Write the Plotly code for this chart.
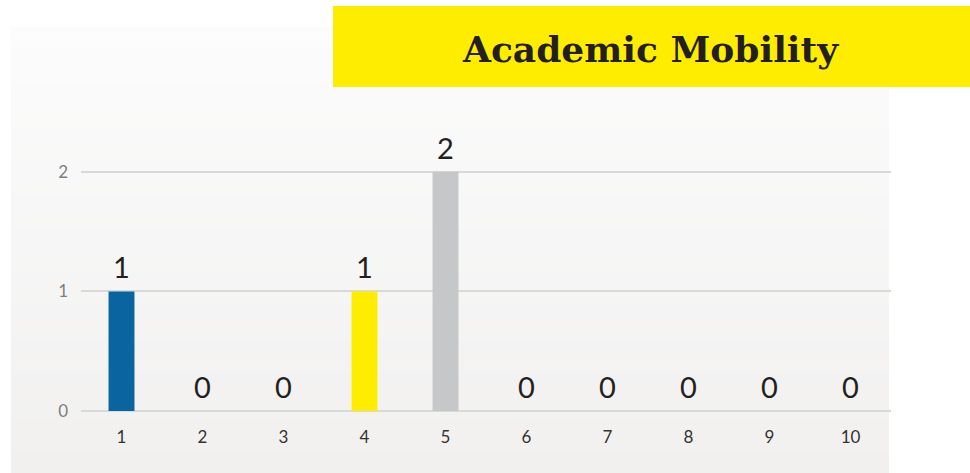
import plotly.graph_objects as go

categories = ["1", "2", "3", "4", "5", "6", "7", "8", "9", "10"]
values = [1, 0, 0, 1, 2, 0, 0, 0, 0, 0]
bar_colors = ["#0a64a0", "#c8c8c8", "#c8c8c8", "#ffed00", "#c6c7c9",
              "#c8c8c8", "#c8c8c8", "#c8c8c8", "#c8c8c8", "#c8c8c8"]
y_ticks = [0, 1, 2]
title_text = "Academic Mobility"

W, H = 970, 473
plot_l, plot_r = 81, 891
plot_top, plot_bot = 112, 411

def px_x(p):
    return (p - plot_l) / (plot_r - plot_l)

def px_y(p):
    return (plot_bot - p) / (plot_bot - plot_top)

fig = go.Figure()
fig.add_trace(go.Bar(
    x=categories, y=values,
    marker=dict(color=bar_colors, line=dict(width=0)),
    width=0.32,
    hoverinfo="x+y",
))

label_font = dict(family="Lato, Open Sans, sans-serif", size=29, color="#231f20")
# on a category axis, annotation x is the category index
annotations = [dict(x=i, y=v, xref="x", yref="y", text=str(v), showarrow=False,
                    xanchor="center", yanchor="bottom", yshift=5, font=label_font)
               for i, v in enumerate(values)]

# gradient-like background panel
shapes = []
top, bottom = 26, 473
n = 40
c0 = (252, 252, 252)
c1 = (241, 240, 239)
for i in range(n):
    t = i / (n - 1)
    col = tuple(round(c0[k] + (c1[k] - c0[k]) * t) for k in range(3))
    y0 = top + (bottom - top) * i / n
    y1 = top + (bottom - top) * (i + 1) / n + 0.6
    shapes.append(dict(type="rect", xref="paper", yref="paper",
                       x0=px_x(11), x1=px_x(889),
                       y0=px_y(y1), y1=px_y(y0), line=dict(width=0),
                       fillcolor="rgb(%d,%d,%d)" % col, layer="below"))

# yellow title box
shapes.append(dict(type="rect", xref="paper", yref="paper",
                   x0=px_x(333), x1=px_x(972),
                   y0=px_y(87), y1=px_y(6), line=dict(width=0),
                   fillcolor="#ffed00", layer="below"))

annotations.append(dict(text="<b>" + title_text + "</b>", xref="paper", yref="paper",
                        x=px_x(650), y=px_y(49),
                        xanchor="center", yanchor="middle", showarrow=False,
                        font=dict(family="DejaVu Serif", size=36, color="#231f20")))

fig.update_layout(
    width=W, height=H,
    margin=dict(l=plot_l, r=W - plot_r, t=plot_top, b=H - plot_bot, pad=0),
    paper_bgcolor="white",
    plot_bgcolor="rgba(0,0,0,0)",
    showlegend=False,
    shapes=shapes,
    annotations=annotations,
    xaxis=dict(type="category", range=[-0.5, 9.5], showgrid=False, showline=False,
               zeroline=False,
               tickfont=dict(family="Lato, Open Sans, sans-serif", size=17, color="#333333"),
               ticks="", ticklabelstandoff=14),
    yaxis=dict(range=[0, 2.5], tickvals=y_ticks, showgrid=True,
               gridcolor="#d9d9d9", gridwidth=2, zeroline=True,
               zerolinecolor="#d9d9d9", zerolinewidth=2,
               tickfont=dict(family="Lato, Open Sans, sans-serif", size=17, color="#7f7f7f"),
               ticks="", ticklabelstandoff=12),
)
fig.write_html("out.html", config={"displayModeBar": False})

with open("out.html", "r", encoding="utf-8") as f:
    html = f.read()
html = html.replace("<head>", "<head><style>html,body{margin:0;padding:0;overflow:hidden;}</style>", 1)
with open("out.html", "w", encoding="utf-8") as f:
    f.write(html)
